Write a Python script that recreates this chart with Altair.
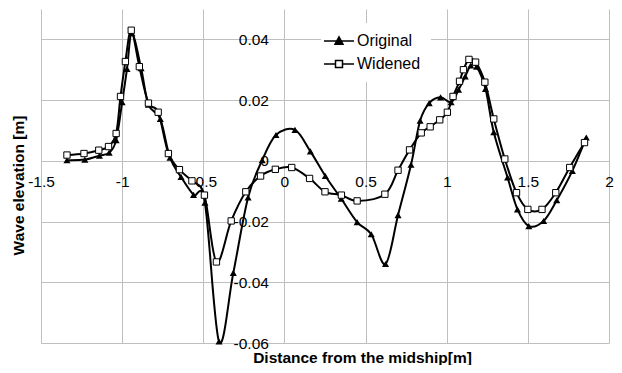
import altair as alt
import pandas as pd

series_names = ["Original", "Widened"]

orig_x = [-1.34, -1.23, -1.14, -1.08, -1.037, -1.0, -0.97, -0.94, -0.883, -0.838,
          -0.765, -0.705, -0.637, -0.56, -0.49, -0.403, -0.315, -0.224, -0.137, -0.052,
          0.065, 0.16, 0.252, 0.35, 0.448, 0.535, 0.623, 0.70, 0.78, 0.836,
          0.892, 0.962, 1.027, 1.073, 1.114, 1.148, 1.184, 1.239, 1.29, 1.375,
          1.436, 1.506, 1.597, 1.678, 1.774, 1.86]
orig_y = [0.0002, 0.0004, 0.0017, 0.0027, 0.0068, 0.0193, 0.0303, 0.0420, 0.0305, 0.0185,
          0.0138, 0.0010, -0.0053, -0.0112, -0.0138, -0.0595, -0.0369, -0.0121, 0.0002, 0.0085,
          0.0102, 0.0031, -0.0050, -0.0125, -0.0202, -0.0242, -0.0340, -0.0179, -0.0013, 0.0132,
          0.0190, 0.0209, 0.0193, 0.0234, 0.0278, 0.0314, 0.0310, 0.0237, 0.0094, -0.0055,
          -0.0160, -0.0215, -0.0198, -0.0130, -0.0033, 0.0077]

wide_x = [-1.34, -1.235, -1.144, -1.084, -1.037, -1.01, -0.98, -0.944, -0.894, -0.838,
          -0.778, -0.715, -0.647, -0.57, -0.493, -0.419, -0.328, -0.238, -0.147, -0.056,
          0.045, 0.155, 0.25, 0.351, 0.448, 0.619, 0.70, 0.771, 0.843, 0.898,
          0.957, 1.004, 1.039, 1.079, 1.103, 1.137, 1.178, 1.235, 1.29, 1.358,
          1.43, 1.50, 1.587, 1.672, 1.758, 1.849]
wide_y = [0.0019, 0.0024, 0.0035, 0.0047, 0.0090, 0.0212, 0.0327, 0.0430, 0.0310, 0.0190,
          0.0160, 0.0024, -0.0029, -0.0066, -0.0113, -0.0333, -0.0198, -0.0102, -0.0050, -0.0028,
          -0.0022, -0.0058, -0.0102, -0.0113, -0.0132, -0.0110, -0.0031, 0.0036, 0.0092, 0.0112,
          0.0135, 0.0160, 0.0212, 0.0262, 0.0300, 0.0334, 0.0325, 0.0259, 0.0138, 0.0006,
          -0.0105, -0.0160, -0.0160, -0.0105, -0.0022, 0.0060]

x_ticks = [-1.5, -1, -0.5, 0, 0.5, 1, 1.5, 2]
y_ticks = [-0.06, -0.04, -0.02, 0, 0.02, 0.04]
x_domain = [-1.5, 2]
y_domain = [-0.06, 0.05]

rows = []
for i, (xv, yv) in enumerate(zip(orig_x, orig_y)):
    rows.append({"x": xv, "y": yv, "series": series_names[0], "idx": i})
for i, (xv, yv) in enumerate(zip(wide_x, wide_y)):
    rows.append({"x": xv, "y": yv, "series": series_names[1], "idx": i})
df = pd.DataFrame(rows)

W, H = 568, 334
x0_px = (0 - x_domain[0]) / (x_domain[1] - x_domain[0]) * W
y0_px = (y_domain[1] - 0) / (y_domain[1] - y_domain[0]) * H

FONT = "Liberation Sans"
GRID = "#bfbfbf"

x_axis = alt.Axis(
    values=x_ticks, labelExpr="'' + datum.value", offset=-(H - y0_px),
    domain=False, ticks=False, tickSize=0, labelPadding=14,
    labelFont=FONT, labelFontSize=15.5, labelColor="black",
    labelOverlap=False, labelFlush=False,
    grid=True, gridColor=GRID, gridWidth=1,
    title="Distance from the midship[m]", titleFont=FONT, titleFontSize=15.5,
    titleFontWeight="bold", titleColor="black",
    titleX=321, titleY=348 - y0_px, titleBaseline="middle", titleAlign="center",
)
y_axis = alt.Axis(
    values=y_ticks, labelExpr="'' + datum.value", offset=-x0_px,
    domain=False, ticks=False, tickSize=0, labelPadding=16,
    labelFont=FONT, labelFontSize=15.5, labelColor="black",
    labelOverlap=False, labelFlush=False, labelAlign="right", labelBaseline="middle",
    grid=True, gridColor=GRID, gridWidth=1,
    title="Wave elevation [m]", titleFont=FONT, titleFontSize=15.5,
    titleFontWeight="bold", titleColor="black", titleAngle=270,
    titleX=-23 - x0_px, titleY=176, titleBaseline="middle", titleAlign="center",
)

base = alt.Chart(df).encode(
    x=alt.X("x:Q", scale=alt.Scale(domain=x_domain, nice=False, zero=False), axis=x_axis),
    y=alt.Y("y:Q", scale=alt.Scale(domain=y_domain, nice=False, zero=False), axis=y_axis),
)

lines = base.mark_line(interpolate="cardinal", color="black", strokeWidth=2).encode(
    detail="series:N", order="idx:Q"
)
tris = base.transform_filter(alt.datum.series == series_names[0]).mark_point(
    shape="triangle-up", filled=True, color="black", size=50, opacity=1
)
sqs = base.transform_filter(alt.datum.series == series_names[1]).mark_point(
    shape="square", filled=True, fill="white", stroke="black", strokeWidth=1, size=40, opacity=1
)

# legend symbols: a line segment with the series marker in the middle
TRI_PATH = "M-3,0H3M0,-0.85L0.8,0.65L-0.8,0.65Z"
SQ_PATH = "M-3,0H-0.7M0.7,0H3M-0.7,-0.7H0.7V0.7H-0.7Z"

leg = alt.Legend(
    title=None, orient="none", legendX=280, legendY=14, fillColor="white",
    padding=10, rowPadding=7, labelOffset=10,
    labelFont=FONT, labelFontSize=16, labelColor="black",
    symbolSize=100, symbolStrokeWidth=1.5, symbolOpacity=1,
)
legend_layer = base.mark_point(opacity=0, filled=True).encode(
    shape=alt.Shape("series:N", scale=alt.Scale(domain=series_names, range=[TRI_PATH, SQ_PATH]), legend=leg),
    fill=alt.Fill("series:N", scale=alt.Scale(domain=series_names, range=["black", "white"]), legend=leg),
    stroke=alt.Stroke("series:N", scale=alt.Scale(domain=series_names, range=["black", "black"]), legend=leg),
)

chart = alt.layer(lines, tris, sqs, legend_layer).properties(
    width=W, height=H,
    autosize=alt.AutoSizeParams(type="none"),
    padding={"left": 33, "top": 1, "right": 5, "bottom": 22},
).configure_view(stroke=None)

chart.save("out.html", embed_options={"renderer": "svg", "actions": False})
